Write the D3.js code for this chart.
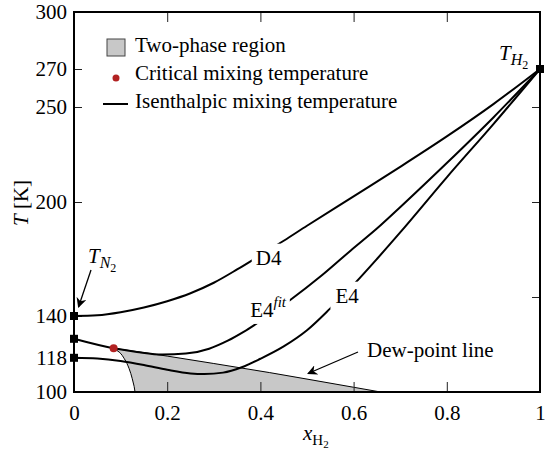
<!DOCTYPE html>
<html lang="en">
<head>
<meta charset="UTF-8">
<title>Isenthalpic mixing</title>
<script src="https://cdn.jsdelivr.net/npm/d3@7"></script>
<style>
    body { margin: 0; background: #fff; }
    svg text { font-family: "Liberation Serif", "Tinos", "Nimbus Roman", "FreeSerif", "Times", "DejaVu Serif", "Noto Serif", serif; font-size: 21px; fill: #000; }
    .tick line { stroke: #222; stroke-width: 1; }
    .curve { fill: none; stroke: #000; stroke-width: 2; }
    .thin { fill: none; stroke: #000; stroke-width: 1; }
</style>
</head>
<body>
<svg width="545" height="451"></svg>
<script>
    // values: x = mole fraction of H2, T in K
    const d4X  = [0, 0.05, 0.1, 0.15, 0.2, 0.25, 0.3, 0.35, 0.4, 0.45, 0.5, 0.6, 0.7, 0.8, 0.9, 1];
    const d4T  = [140, 140.4, 142, 144.5, 147.8, 152, 157.5, 164.5, 172, 179.6, 187.5, 203, 218.5, 234.5, 251.5, 270];

    const e4fitX = [0, 0.085, 0.135, 0.19, 0.24, 0.29, 0.33, 0.363, 0.41, 0.464, 0.53, 0.594, 0.65, 0.701, 0.8, 0.9, 1];
    const e4fitT = [128, 123, 121.1, 119.7, 120.2, 122.8, 127, 131.5, 139, 148.4, 161, 174.5, 186, 197.5, 220.5, 244.5, 270];

    const e4X  = [0, 0.05, 0.1, 0.15, 0.2, 0.25, 0.28, 0.32, 0.36, 0.4, 0.45, 0.5, 0.55, 0.6, 0.65, 0.7, 0.8, 0.9, 1];
    const e4T  = [118, 117.6, 116.3, 114.2, 111.7, 109.8, 109.5, 110.2, 113, 117.5, 124, 132.5, 144, 156.5, 170, 184, 213, 241, 270];

    // two-phase envelope: dew-point line and the steep bubble side
    const dewX = [0.085, 0.2, 0.3, 0.42, 0.5, 0.6, 0.658];
    const dewT = [123, 118.9, 115, 110.2, 106.8, 102.5, 100];
    const bubX = [0.085, 0.097, 0.108, 0.118, 0.125, 0.129, 0.131];
    const bubT = [123, 121, 117.5, 112.5, 107, 103, 100];

    const critical = [0.085, 123];
    const endPoints = [[0, 140], [0, 128], [0, 118], [1, 270]];

    const leftTicks = [100, 118, 140, 200, 250, 270, 300];
    const rightTicks = [100, 150, 200, 250, 300];
    const xTicks = [0, 0.2, 0.4, 0.6, 0.8, 1];
    const xTickLabels = ["0", "0.2", "0.4", "0.6", "0.8", "1"];

    const legendItems = ["Two-phase region", "Critical mixing temperature", "Isenthalpic mixing temperature"];

    const margin = {left: 74, top: 12, right: 5, bottom: 59};
    const W = 545 - margin.left - margin.right;
    const H = 451 - margin.top - margin.bottom;

    const svg = d3.select("svg");
    const g = svg.append("g").attr("transform", `translate(${margin.left},${margin.top})`);

    const x = d3.scaleLinear().domain([0, 1]).range([0, W]);
    const y = d3.scaleLinear().domain([100, 300]).range([H, 0]);

    const defs = svg.append("defs");
    defs.append("marker")
        .attr("id", "arrow")
        .attr("viewBox", "0 0 10 10")
        .attr("refX", 9).attr("refY", 5)
        .attr("markerWidth", 10).attr("markerHeight", 10)
        .attr("markerUnits", "userSpaceOnUse")
        .attr("orient", "auto")
        .append("path").attr("d", "M0,0 L10,5 L0,10 L3,5 Z").attr("fill", "#000");

    const line = d3.line().x(d => x(d[0])).y(d => y(d[1])).curve(d3.curveMonotoneX);
    const lineY = d3.line().x(d => x(d[0])).y(d => y(d[1])).curve(d3.curveMonotoneY);
    const zip = (a, b) => a.map((v, i) => [v, b[i]]);

    // two-phase region
    const bubble = zip(bubX, bubT).reverse();
    const dew = zip(dewX, dewT);
    g.append("path")
        .attr("d", lineY(bubble) + "L" + dew.slice(1).map(d => [x(d[0]), y(d[1])]).join("L") + "Z")
        .attr("fill", "#c8c8c8").attr("stroke", "none");
    g.append("path").attr("class", "thin").attr("d", lineY(bubble));
    g.append("path").attr("class", "thin").attr("d", line(dew));

    // axes
    const yLeft = g.append("g")
        .call(d3.axisLeft(y).tickValues(leftTicks).tickSize(-8).tickPadding(7).tickFormat(d3.format("d")));
    const yRight = g.append("g").attr("transform", `translate(${W},0)`)
        .call(d3.axisRight(y).tickValues(rightTicks).tickSize(-8).tickFormat(""));
    const xBottom = g.append("g").attr("transform", `translate(0,${H})`)
        .call(d3.axisBottom(x).tickValues(xTicks).tickSize(-10).tickPadding(12).tickFormat((d, i) => xTickLabels[i]));
    const xTop = g.append("g")
        .call(d3.axisTop(x).tickValues(xTicks).tickSize(-10).tickFormat(""));
    [yLeft, yRight, xBottom, xTop].forEach(a => {
        a.select(".domain").remove();
        a.attr("font-family", null).attr("font-size", null);
    });
    yLeft.selectAll("text").attr("dy", "0.33em");
    xBottom.selectAll("text").attr("dy", "0.75em");

    // curves
    const curves = [zip(d4X, d4T), zip(e4fitX, e4fitT), zip(e4X, e4T)];
    g.selectAll(".curve").data(curves).join("path").attr("class", "curve").attr("d", line);

    // curve labels, with a white gap in the line
    function gapLabel(px, py, build, pad) {
        const t = g.append("text").attr("x", px).attr("y", py);
        build(t);
        const b = t.node().getBBox();
        g.insert("rect", () => t.node())
            .attr("x", b.x - pad).attr("y", b.y - 2).attr("width", b.width + 2 * pad).attr("height", b.height + 4)
            .attr("fill", "#fff");
    }
    gapLabel(x(0.39), y(167), t => t.text("D4"), 4);
    gapLabel(x(0.378), y(139.5), t => {
        t.append("tspan").text("E4");
        t.append("tspan").attr("dy", -10).attr("font-size", 15).attr("font-style", "italic").text("fit");
    }, 3);
    gapLabel(x(0.561), y(147), t => t.text("E4"), 5);

    // frame
    g.append("rect").attr("width", W).attr("height", H)
        .attr("fill", "none").attr("stroke", "#000").attr("stroke-width", 2);

    // end-point markers and critical point
    g.selectAll(".endpt").data(endPoints).join("rect").attr("class", "endpt")
        .attr("x", d => x(d[0]) - 4).attr("y", d => y(d[1]) - 4)
        .attr("width", 8).attr("height", 8).attr("fill", "#000");
    g.append("circle").attr("cx", x(critical[0])).attr("cy", y(critical[1])).attr("r", 4).attr("fill", "#b22222");

    // annotations
    const tn = g.append("text").attr("x", 14).attr("y", 251).attr("font-style", "italic");
    tn.append("tspan").text("T");
    tn.append("tspan").attr("dy", 5).attr("font-size", 16).text("N");
    tn.append("tspan").attr("dy", 4).attr("font-size", 12).attr("font-style", "normal").text("2");
    g.append("line").attr("x1", 17).attr("y1", 258).attr("x2", 4.5).attr("y2", 295)
        .attr("stroke", "#000").attr("stroke-width", 1.3).attr("marker-end", "url(#arrow)");

    const th = g.append("text").attr("x", 425).attr("y", 48).attr("font-style", "italic");
    th.append("tspan").text("T");
    th.append("tspan").attr("dy", 5).attr("font-size", 16).text("H");
    th.append("tspan").attr("dy", 4).attr("font-size", 12).attr("font-style", "normal").text("2");

    g.append("text").attr("x", 293).attr("y", 345).text("Dew-point line");
    g.append("line").attr("x1", 284).attr("y1", 340).attr("x2", 234).attr("y2", 361.5)
        .attr("stroke", "#000").attr("stroke-width", 1.3).attr("marker-end", "url(#arrow)");

    // axis titles
    const yt = svg.append("text").attr("transform", "translate(28,203) rotate(-90)").attr("text-anchor", "middle");
    yt.append("tspan").attr("font-style", "italic").text("T");
    yt.append("tspan").text(" [K]");
    const xt = svg.append("text").attr("x", 303).attr("y", 440);
    xt.append("tspan").attr("font-style", "italic").text("x");
    xt.append("tspan").attr("dy", 5).attr("font-size", 15).text("H");
    xt.append("tspan").attr("dy", 3).attr("font-size", 11).text("2");

    // legend
    const leg = svg.append("g");
    leg.append("rect").attr("x", 107).attr("y", 39).attr("width", 18).attr("height", 17)
        .attr("fill", "#c8c8c8").attr("stroke", "#444").attr("stroke-width", 1);
    leg.append("circle").attr("cx", 116).attr("cy", 78).attr("r", 3.5).attr("fill", "#b22222");
    leg.append("line").attr("x1", 103).attr("x2", 128).attr("y1", 104).attr("y2", 104)
        .attr("stroke", "#000").attr("stroke-width", 2);
    leg.selectAll(".lt").data(legendItems).join("text").attr("class", "lt")
        .attr("x", 135).attr("y", (d, i) => 52 + i * 28).text(d => d);
</script>
</body>
</html>
